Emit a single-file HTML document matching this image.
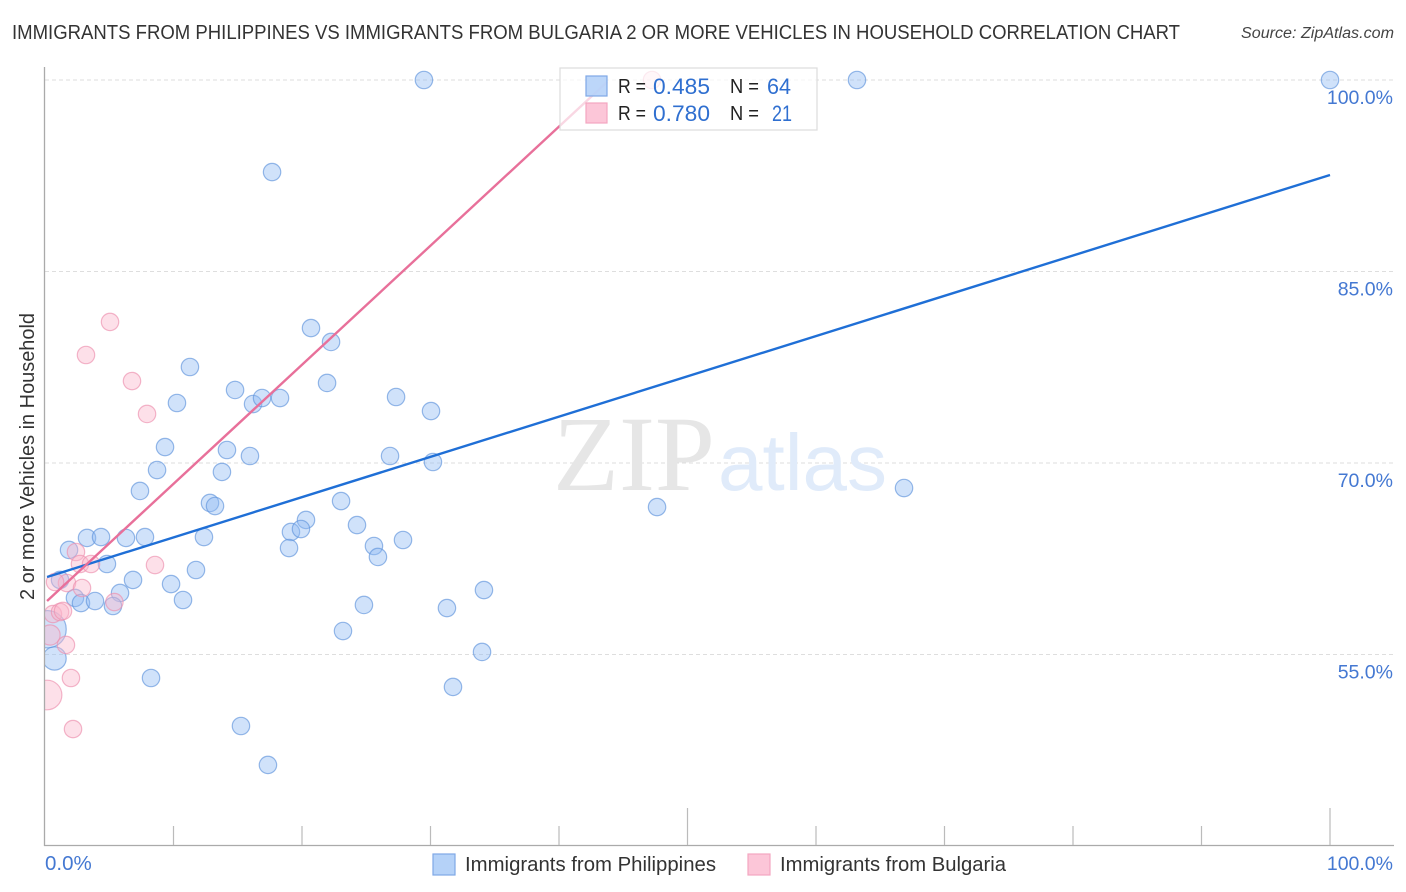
<!DOCTYPE html>
<html>
<head>
<meta charset="utf-8">
<title>Immigrants from Philippines vs Immigrants from Bulgaria</title>
<style>
html,body{margin:0;padding:0;background:#fff;width:1406px;height:892px;overflow:hidden}
svg{display:block;font-family:"Liberation Sans",sans-serif}
</style>
</head>
<body>
<svg id="chart" width="1406" height="892" viewBox="0 0 1406 892">
  <defs><clipPath id="plot-clip"><rect x="45" y="60" width="1349" height="786"/></clipPath></defs>
  <text x="12" y="39" font-size="20" fill="#333" textLength="1168" lengthAdjust="spacingAndGlyphs">IMMIGRANTS FROM PHILIPPINES VS IMMIGRANTS FROM BULGARIA 2 OR MORE VEHICLES IN HOUSEHOLD CORRELATION CHART</text>
  <text x="1241" y="38" font-size="15.5" font-style="italic" fill="#444" textLength="153" lengthAdjust="spacingAndGlyphs">Source: ZipAtlas.com</text>
  <text transform="translate(34,600) rotate(-90)" font-size="20" fill="#333" textLength="287" lengthAdjust="spacingAndGlyphs">2 or more Vehicles in Household</text>

  <g id="grid"></g>
  <g>
    <text x="553" y="490" font-family="'Liberation Serif',serif" font-size="107" fill="#e6e6e6" textLength="162" lengthAdjust="spacingAndGlyphs">ZIP</text>
    <text x="718" y="490" font-size="80" fill="#e0ebfa" textLength="169" lengthAdjust="spacingAndGlyphs">atlas</text>
  </g>
  <g id="marks" clip-path="url(#plot-clip)"></g>
  <g id="axes"></g>

  <g>
    <rect x="560" y="68" width="257" height="62" fill="#fff" fill-opacity="0.72" stroke="#dcdcdc" stroke-width="1.2"/>
    <rect x="586" y="76" width="21" height="20" fill="#b5d2f8" fill-opacity="0.9" stroke="#7fa8e6" stroke-width="1.2"/>
    <rect x="586" y="103" width="21" height="20" fill="#fcc6d8" stroke="#f4a6c0" stroke-width="1.2"/>
    <text x="618" y="93" font-size="20" fill="#222" textLength="28" lengthAdjust="spacingAndGlyphs">R =</text>
    <text x="653" y="94" font-size="22" fill="#2f6fd0" textLength="57" lengthAdjust="spacingAndGlyphs">0.485</text>
    <text x="730" y="93" font-size="20" fill="#222" textLength="29" lengthAdjust="spacingAndGlyphs">N =</text>
    <text x="767" y="94" font-size="22" fill="#2f6fd0" textLength="24" lengthAdjust="spacingAndGlyphs">64</text>
    <text x="618" y="120" font-size="20" fill="#222" textLength="28" lengthAdjust="spacingAndGlyphs">R =</text>
    <text x="653" y="121" font-size="22" fill="#2f6fd0" textLength="57" lengthAdjust="spacingAndGlyphs">0.780</text>
    <text x="730" y="120" font-size="20" fill="#222" textLength="29" lengthAdjust="spacingAndGlyphs">N =</text>
    <text x="772" y="121" font-size="22" fill="#2f6fd0" textLength="20" lengthAdjust="spacingAndGlyphs">21</text>
  </g>

  <g>
    <rect x="433" y="854" width="22" height="21" fill="#b5d2f8" stroke="#7fa8e6" stroke-width="1.2"/>
    <text x="465" y="871" font-size="20" fill="#333" textLength="251" lengthAdjust="spacingAndGlyphs">Immigrants from Philippines</text>
    <rect x="748" y="854" width="22" height="21" fill="#fcc6d8" stroke="#f4a6c0" stroke-width="1.2"/>
    <text x="780" y="871" font-size="20" fill="#333" textLength="226" lengthAdjust="spacingAndGlyphs">Immigrants from Bulgaria</text>
  </g>
</svg>
<script>
const yTickValues = [100, 85, 70, 55];
const yTickLabels = ["100.0%", "85.0%", "70.0%", "55.0%"];
const xTickValues = [0, 10, 20, 30, 40, 50, 60, 70, 80, 90, 100];
const xMajorTicks = [50, 100];
const xEdgeValues = [0, 100];
const xEdgeLabels = ["0.0%", "100.0%"];

const philippinesX = [29.49,63.19,100,17.67,20.70,22.26,11.28,21.95,14.79,10.27,16.19,16.89,18.29,27.32,30.04,9.34,14.16,15.95,26.85,30.19,8.72,13.77,7.39,12.84,13.23,23.04,47.63,66.85,20.31,19.14,19.92,24.28,3.27,4.36,6.30,7.78,12.37,27.86,25.60,18.99,25.91,1.87,4.82,11.75,6.85,9.81,1.17,5.84,34.16,10.74,2.33,2.80,3.89,5.29,24.82,31.28,23.19,34.01,8.25,31.75,15.25,17.35,0.20,0.74];
const philippinesY = [100,100,100,92.79,80.57,79.48,77.52,76.27,75.72,74.70,74.62,75.09,75.09,75.17,74.07,71.25,71.02,70.55,70.55,70.08,69.45,69.30,67.81,66.87,66.63,67.02,66.55,68.04,65.54,64.60,64.83,65.14,64.13,64.20,64.13,64.20,64.20,63.97,63.50,63.34,62.64,63.19,62.09,61.62,60.84,60.52,60.84,59.82,60.05,59.27,59.43,59.03,59.19,58.80,58.88,58.64,56.84,55.20,53.16,52.46,49.40,46.35,56.98,54.69];
const philippinesWeight = [1,1,1,1,1,1,1,1,1,1,1,1,1,1,1,1,1,1,1,1,1,1,1,1,1,1,1,1,1,1,1,1,1,1,1,1,1,1,1,1,1,1,1,1,1,1,1,1,1,1,1,1,1,1,1,1,1,1,1,1,1,1,4.6,1.8];

const bulgariaX = [47.24,5.06,3.19,6.77,7.94,2.41,2.72,3.58,8.56,1.71,0.78,2.88,5.40,0.62,1.17,1.40,0.39,1.63,2.02,2.18,0.16];
const bulgariaY = [100,81.05,78.46,76.42,73.84,63.03,62.09,62.09,62.01,60.60,60.68,60.21,59.11,58.17,58.33,58.41,56.53,55.75,53.16,49.16,51.83];
const bulgariaWeight = [1,1,1,1,1,1,1,1,1,1,1,1,1,1,1,1,1.35,1,1,1,2.9];

const philippinesTrendX = [0.16, 100];
const philippinesTrendY = [61.07, 92.56];
const bulgariaTrendX = [0.16, 43.74];
const bulgariaTrendY = [59.19, 99.84];

const NS = "http://www.w3.org/2000/svg";
function xScale(v) { return 45 + v * 12.85; }
function yScale(v) { return 80 + (100 - v) * 12.767; }
function rScale(w) { return 8.7 * Math.sqrt(w); }
function make(parent, tag, attrs) {
  const el = document.createElementNS(NS, tag);
  for (const k in attrs) el.setAttribute(k, attrs[k]);
  parent.appendChild(el);
  return el;
}

const grid = document.getElementById("grid");
const marks = document.getElementById("marks");
const axes = document.getElementById("axes");

yTickValues.forEach(function (v) {
  const line = make(grid, "line", {x1: 45, x2: 1394, y1: yScale(v), y2: yScale(v), stroke: "#dedede", "stroke-width": 1, "stroke-dasharray": "4 3"});
  
  
});

function drawPoints(xs, ys, ws, fill, stroke, name) {
  xs.forEach(function (v, i) {
    const c = make(marks, "circle", {cx: xScale(v), cy: yScale(ys[i]), r: rScale(ws[i]), fill: fill, "fill-opacity": 0.42, stroke: stroke, "stroke-opacity": 0.65, "stroke-width": 1.2});
    
    
  });
}
drawPoints(philippinesX, philippinesY, philippinesWeight, "#8fb9f2", "#5f93dc", "point-philippines");
drawPoints(bulgariaX, bulgariaY, bulgariaWeight, "#fab4ca", "#ec8fae", "point-bulgaria");

const trendBlue = make(marks, "line", {x1: xScale(philippinesTrendX[0]), y1: yScale(philippinesTrendY[0]), x2: xScale(philippinesTrendX[1]), y2: yScale(philippinesTrendY[1]), stroke: "#1f6fd6", "stroke-width": 2.4});


const trendPink = make(marks, "line", {x1: xScale(bulgariaTrendX[0]), y1: yScale(bulgariaTrendY[0]), x2: xScale(bulgariaTrendX[1]), y2: yScale(bulgariaTrendY[1]), stroke: "#e8709a", "stroke-width": 2.4});



const yAxisLine = make(axes, "line", {x1: 44.5, x2: 44.5, y1: 67, y2: 846, stroke: "#aaa", "stroke-width": 1.3});


const xAxisLine = make(axes, "line", {x1: 44, x2: 1394, y1: 845.5, y2: 845.5, stroke: "#aaa", "stroke-width": 1.3});



xTickValues.forEach(function (v) {
  if (v === 0) return;
  const top = xMajorTicks.indexOf(v) >= 0 ? 808 : 826;
  const tick = make(axes, "line", {x1: xScale(v), x2: xScale(v), y1: top, y2: 845, stroke: "#bbb", "stroke-width": 1.2});
  
  
});

yTickValues.forEach(function (v, i) {
  const t = make(axes, "text", {x: 1393, y: yScale(v) + 24, "text-anchor": "end", "font-size": 19.5, fill: "#4478d2"});
  t.textContent = yTickLabels[i];
  
  
});

xEdgeValues.forEach(function (v, i) {
  const anchor = i === 0 ? "start" : "end";
  const px = i === 0 ? xScale(v) : xScale(v) + 63;
  const size = i === 0 ? 20.5 : 19.5;
  const t = make(axes, "text", {x: px, y: 870, "text-anchor": anchor, "font-size": size, fill: "#4478d2"});
  t.textContent = xEdgeLabels[i];
  
  
});
</script>
</body>
</html>
